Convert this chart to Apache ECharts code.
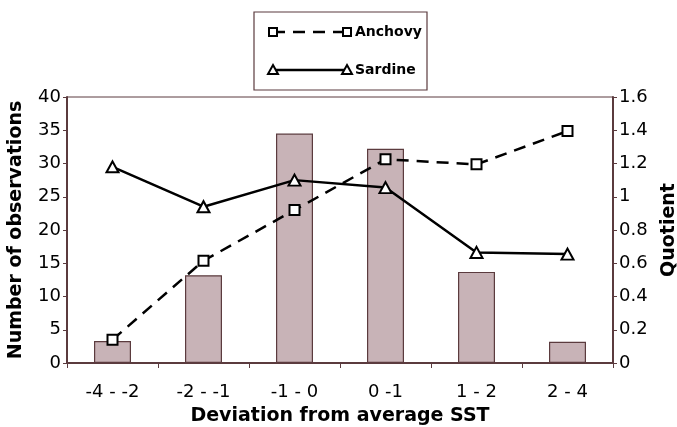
<!DOCTYPE html>
<html><head><meta charset="utf-8">
<script src="https://cdn.jsdelivr.net/npm/echarts@6/dist/echarts.min.js"></script>
<style>html,body{margin:0;padding:0;background:#fff}#c{width:677px;height:427px}</style>
</head><body><div id="c"></div>
<script>
const categories = ['-4 - -2', '-2 - -1', '-1 - 0', '0 -1', '1 - 2', '2 - 4'];
const observations = [3.3, 13.2, 34.5, 32.2, 13.7, 3.2];
const anchovy = [0.14, 0.615, 0.92, 1.225, 1.195, 1.395];
const sardine = [1.18, 0.94, 1.1, 1.055, 0.665, 0.655];
const leftTicks = {min: 0, max: 40, interval: 5};
const rightTicks = {min: 0, max: 1.6, interval: 0.2};

const axisColor = '#5b3b3e';
const font = '"DejaVu Sans", sans-serif';
const chart = echarts.init(document.getElementById('c'));
const triPath = 'path://M5,0 L10,9 L0,9 Z';
chart.setOption({
  animation: false,
  backgroundColor: '#fff',
  grid: {left: 67, right: 64, top: 97, bottom: 64, show: true, borderColor: axisColor, borderWidth: 1,
         containLabel: false, outerBoundsMode: 'none'},
  xAxis: {
    type: 'category', data: categories, boundaryGap: true,
    axisLine: {lineStyle: {color: axisColor, width: 2}},
    axisTick: {show: true, length: 5, lineStyle: {color: axisColor}},
    axisLabel: {color: '#000', fontFamily: font, fontSize: 18, margin: 20},
    name: 'Deviation from average SST', nameLocation: 'middle', nameGap: 44,
    nameTextStyle: {color: '#000', fontFamily: font, fontSize: 19, fontWeight: 'bold'}
  },
  yAxis: [{
    type: 'value', min: leftTicks.min, max: leftTicks.max, interval: leftTicks.interval,
    splitLine: {show: false},
    axisLine: {show: true, lineStyle: {color: axisColor, width: 2}},
    axisTick: {show: true, length: 4, lineStyle: {color: axisColor}},
    axisLabel: {color: '#000', fontFamily: font, fontSize: 18, margin: 6},
    name: 'Number of observations', nameLocation: 'middle', nameGap: 41, nameRotate: 90,
    nameTextStyle: {color: '#000', fontFamily: font, fontSize: 19, fontWeight: 'bold'}
  }, {
    type: 'value', min: rightTicks.min, max: rightTicks.max, interval: rightTicks.interval,
    position: 'right', splitLine: {show: false},
    axisLine: {show: true, lineStyle: {color: axisColor, width: 2}},
    axisTick: {show: true, length: 4, lineStyle: {color: axisColor}},
    axisLabel: {color: '#000', fontFamily: font, fontSize: 18, margin: 6},
    name: 'Quotient', nameLocation: 'middle', nameGap: 47, nameRotate: 90,
    nameTextStyle: {color: '#000', fontFamily: font, fontSize: 19, fontWeight: 'bold'}
  }],
  series: [{
    type: 'bar', data: observations, barWidth: 37, yAxisIndex: 0,
    itemStyle: {color: '#c8b3b7', borderColor: '#5b3b3e', borderWidth: 1.2}
  }, {
    type: 'line', name: 'Anchovy', data: anchovy, yAxisIndex: 1,
    lineStyle: {color: '#000', width: 2.5, type: [12, 8]},
    symbol: 'rect', symbolSize: 10,
    itemStyle: {color: '#fff', borderColor: '#000', borderWidth: 2}
  }, {
    type: 'line', name: 'Sardine', data: sardine, yAxisIndex: 1,
    lineStyle: {color: '#000', width: 2.5},
    symbol: triPath, symbolSize: [12, 11],
    itemStyle: {color: '#fff', borderColor: '#000', borderWidth: 2}
  }],
  graphic: [
    {type: 'rect', shape: {x: 254, y: 12, width: 173, height: 78}, style: {fill: '#fff', stroke: axisColor, lineWidth: 1.2}, z: 10},
    {type: 'line', shape: {x1: 273, y1: 32, x2: 347, y2: 32}, style: {stroke: '#000', lineWidth: 2.5, lineDash: [12, 8]}, z: 11},
    {type: 'rect', shape: {x: 269, y: 28, width: 8, height: 8}, style: {fill: '#fff', stroke: '#000', lineWidth: 2}, z: 12},
    {type: 'rect', shape: {x: 343, y: 28, width: 8, height: 8}, style: {fill: '#fff', stroke: '#000', lineWidth: 2}, z: 12},
    {type: 'text', x: 355, y: 32, style: {text: 'Anchovy', fill: '#000', font: 'bold 14px ' + font, textVerticalAlign: 'middle'}, z: 12},
    {type: 'line', shape: {x1: 273, y1: 70, x2: 347, y2: 70}, style: {stroke: '#000', lineWidth: 2.5}, z: 11},
    {type: 'polygon', shape: {points: [[273, 65], [278, 74], [268, 74]]}, style: {fill: '#fff', stroke: '#000', lineWidth: 2}, z: 12},
    {type: 'polygon', shape: {points: [[347, 65], [352, 74], [342, 74]]}, style: {fill: '#fff', stroke: '#000', lineWidth: 2}, z: 12},
    {type: 'text', x: 355, y: 70, style: {text: 'Sardine', fill: '#000', font: 'bold 14px ' + font, textVerticalAlign: 'middle'}, z: 12}
  ]
});
</script></body></html>
